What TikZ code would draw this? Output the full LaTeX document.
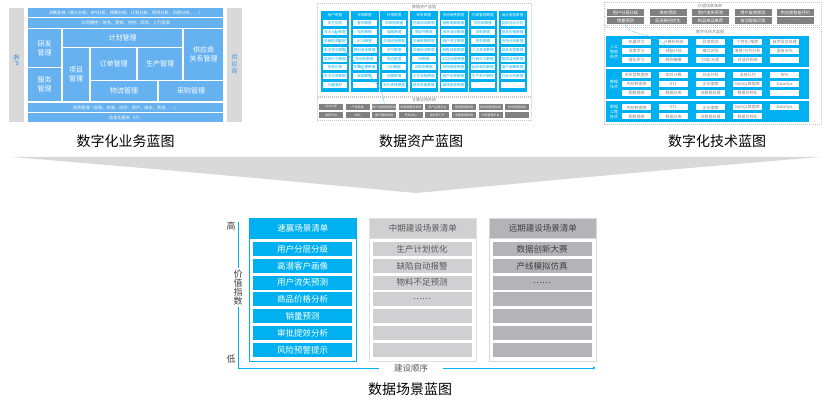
\documentclass[tikz,border=0pt]{standalone}
\usepackage{fontspec}
\setmainfont{Noto Sans CJK SC}
\usepackage{tikz}
\usepackage{xcolor}
\usetikzlibrary{arrows.meta, positioning}

\definecolor{cyanblue}{HTML}{00B0F0}
\definecolor{bizblue}{HTML}{66B2F0}
\definecolor{bartxt}{HTML}{3F95E6}
\definecolor{bargray}{HTML}{D9D9D9}
\definecolor{sysgray}{HTML}{808080}
\definecolor{midgray}{HTML}{D0D0D2}
\definecolor{fargray}{HTML}{B4B4B8}
\definecolor{txtgray}{HTML}{595959}
\definecolor{deepgray}{HTML}{404040}

\tikzset{
    bizbox/.style={fill=bizblue, text=white, anchor=north west, inner sep=0pt, align=center, font=\fontsize{7}{9}\selectfont},
    bizrow/.style={bizbox, font=\fontsize{4.2}{5}\selectfont},
    graybar/.style={fill=bargray, anchor=north west, inner sep=0pt, minimum width=15pt, minimum height=114pt},
    bartext/.style={text=bartxt, align=center, inner sep=0pt, font=\fontsize{6}{7}\selectfont},
    dashbox/.style={draw=gray!45, dash pattern=on 1pt off 1pt, line width=0.4pt},
    thumbtitle/.style={text=gray, inner sep=0pt, font=\fontsize{4}{5}\selectfont},
    assetcol/.style={fill=cyanblue, anchor=north west, inner sep=0pt, minimum width=28pt, minimum height=81pt},
    assethead/.style={text=white, inner sep=0pt, font=\fontsize{3.6}{4}\selectfont},
    assetitem/.style={fill=white, text=cyanblue, inner sep=0pt, minimum width=24pt, minimum height=6pt, font=\fontsize{3.6}{4}\selectfont},
    sysitem/.style={fill=sysgray, text=white, inner sep=0pt, minimum width=24pt, minimum height=6pt, font=\fontsize{3}{3.5}\selectfont},
    valueitem/.style={fill=sysgray, text=white, inner sep=0pt, minimum width=37pt, minimum height=7pt, font=\fontsize{4.2}{5}\selectfont},
    techband/.style={fill=cyanblue, anchor=north west, inner sep=0pt, minimum width=203pt},
    techlabel/.style={text=white, align=center, inner sep=0pt, font=\fontsize{4}{5}\selectfont},
    techitem/.style={fill=white, text=gray, inner sep=0pt, minimum width=29pt, minimum height=6pt, font=\fontsize{4}{4.5}\selectfont},
    linkline/.style={cyanblue!70, line width=0.4pt},
    bptitle/.style={inner sep=0pt, font=\fontsize{14}{16}\selectfont},
    scenebox/.style={fill=white, anchor=north west, inner sep=0pt, minimum width=107pt, minimum height=143pt, line width=0.8pt},
    scenehead/.style={anchor=north west, inner sep=0pt, minimum width=107pt, minimum height=20pt, line width=0.8pt, font=\fontsize{8.5}{10}\selectfont},
    sceneitem/.style={inner sep=0pt, minimum width=99pt, minimum height=14pt, font=\fontsize{8.5}{10}\selectfont},
    axislabel/.style={text=deepgray, inner sep=0pt, font=\fontsize{9}{9}\selectfont},
}

\begin{document}
\begin{tikzpicture}[x=1pt, y=-1pt]
    % Canvas
    \fill[white] (0,0) rectangle (826,403);
    \useasboundingbox (0,0) rectangle (826,403);

    % Business blueprint
    \node[graybar] (kehubar) at (9,8) {};
    \node[graybar] (gysbar) at (227,8) {};
    \node[bartext, rotate=-90] (kehutext) at (16.5,61) {客户};
    \node[bartext] (gystext) at (234.5,64.5) {供\\应\\商};
    \node[bizrow, minimum width=195pt, minimum height=9pt] (juece) at (28,8) {决策支持（收入分析、KPI分析、预算分析、计划分析、预测分析、风险分析、…）};
    \node[bizrow, minimum width=195pt, minimum height=10pt] (guankong) at (28,18) {公司管控：财务、营销、内控、风险、人力资源};
    \node[bizbox, minimum width=33pt, minimum height=38pt] (yanfa) at (28,29) {研发\\管理};
    \node[bizbox, minimum width=33pt, minimum height=33pt] (fuwu) at (28,68) {服务\\管理};
    \node[bizbox, minimum width=119pt, minimum height=18pt] (jihua) at (63,29) {计划管理};
    \node[bizbox, minimum width=26pt, minimum height=53pt] (xiangmu) at (63,48) {项目\\管理};
    \node[bizbox, minimum width=45pt, minimum height=32pt] (dingdan) at (91,48) {订单管理};
    \node[bizbox, minimum width=44pt, minimum height=32pt] (shengchan) at (138,48) {生产管理};
    \node[bizbox, minimum width=39pt, minimum height=51pt] (gongying) at (184,29) {供应商\\关系管理};
    \node[bizbox, minimum width=66pt, minimum height=20pt] (wuliu) at (91,81) {物流管理};
    \node[bizbox, minimum width=64pt, minimum height=20pt] (caigou) at (159,81) {采购管理};
    \node[bizrow, minimum width=195pt, minimum height=9pt] (caiwu) at (28,103) {财务管理（总账、应收、应付、资产、成本、资金、…）};
    \node[bizrow, minimum width=195pt, minimum height=9pt] (itbase) at (28,113) {信息化服务（IT）};

    % Data asset blueprint
    \draw[dashbox] (317,3) rectangle (531,96);
    \draw[dashbox] (317,97) rectangle (531,120);
    \node[thumbtitle] (assettitle) at (424,6.8) {数据资产蓝图};
    \node[thumbtitle] (systitle) at (424,100.3) {主要应用系统};
    \foreach \head [count=\i] in {用户数据, 车辆数据, 环境数据, 研发数据, 市场销售数据, 内部管理数据, 商业智能数据} {
        \node[assetcol] (col\i) at ({321+29.6*(\i-1)},11) {};
        \node[assethead] (head\i) at ({335+29.6*(\i-1)},15.5) {\head};
    }
    \foreach \t [count=\j] in {车主信息, 车主App数据, 车辆购买数据, 车主购买数据, 驾驶行为数据, 车险记录, 车主浏览数据, 兴趣爱好}
        \node[assetitem] (a1\j) at (335,{23.5+8.8*(\j-1)}) {\t};
    \foreach \t [count=\j] in {整车数据, 电机数据, DCM数据, 燃料电池数据, 发动机数据, 车辆位置数据, 故障数据, ……}
        \node[assetitem] (a2\j) at (364.6,{23.5+8.8*(\j-1)}) {\t};
    \foreach \t [count=\j] in {车联网数据, 道路数据, 交通设施数据, 天气数据, 周边数据, POI数据, 地图数据, 车内环境数据}
        \node[assetitem] (a3\j) at (394.2,{23.5+8.8*(\j-1)}) {\t};
    \foreach \t [count=\j] in {仿真测试数据, 零部件数据, 车辆故障数据, 车辆测试数据, VR数据, 试验车数据, 工艺流程数据, 研发设备数据}
        \node[assetitem] (a4\j) at (423.8,{23.5+8.8*(\j-1)}) {\t};
    \foreach \t [count=\j] in {销售明细数据, 市场活动数据, 用户关注数据, 销售线索数据, 4S店运营数据, 市场投放数据, 用户反馈数据, 媒体投放数据}
        \node[assetitem] (a5\j) at (453.4,{23.5+8.8*(\j-1)}) {\t};
    \foreach \t [count=\j] in {供应商数据, 采购数据, 财务数据, 人力资源数据, 行政办公数据, 组织架构数据, 生产资产数据, ……}
        \node[assetitem] (a6\j) at (483,{23.5+8.8*(\j-1)}) {\t};
    \foreach \t [count=\j] in {竞品对比分析, 竞品价格数据, 市场分析数据, 竞品车型数据, 舆情监测数据, 用户画像数据, 行业分析数据, ……}
        \node[assetitem] (a7\j) at (512.6,{23.5+8.8*(\j-1)}) {\t};
    % application systems
    \foreach \t [count=\j] in {CAD/CAE, 产线系统, 用户运营管理系统, 车联网服务系统, 用户运营平台, 营销管理系统, 供应链管理系统, 财务管理系统}
        \node[sysitem] (s1\j) at ({331+26.6*(\j-1)},107) {\t};
    \foreach \t [count=\j] in {电商平台, MES, 客户服务系统, 呼叫中心, 供应商门户, 设备管理系统, 内控管理平台, ……}
        \node[sysitem] (s2\j) at ({331+26.6*(\j-1)},115) {\t};
    \draw[linkline] (a11.south) .. controls (337,62) and (382,70) .. (s13.north);

    % Technology blueprint
    \draw[dashbox] (604,2) rectangle (821,25);
    \draw[dashbox] (604,27) rectangle (821,124);
    \node[thumbtitle] (valuetitle) at (710,5.8) {价值场景清单};
    \node[thumbtitle] (techtitle) at (710,31.8) {数字化技术蓝图};
    \foreach \t [count=\j] in {用户分层分级, 库存预测, 用户流失预测, 用户复购预测, 供应商智能评价}
        \node[valueitem] (v1\j) at ({625.5+42.5*(\j-1)},12.5) {\t};
    \foreach \t [count=\j] in {销量预测, 配送路径优化, 新品商品推荐, 自动智能问答, ……}
        \node[valueitem] (v2\j) at ({625.5+42.5*(\j-1)},20.5) {\t};
    \node[techband, minimum height=31pt] (aiband) at (606,36) {};
    \node[techband, minimum height=30pt] (databand) at (606,69) {};
    \node[techband, minimum height=21pt] (engband) at (606,101) {};
    \node[techlabel] (ailabel) at (614,51.5) {人工\\智能\\技术};
    \node[techlabel] (datalabel) at (614,84) {数据\\技术};
    \node[techlabel] (englabel) at (614,111.5) {数据\\工程\\技术};
    \foreach \t [count=\j] in {机器学习, 计算机视觉, 异常检测, 个性化/推荐, 自然语言处理}
        \node[techitem] (ta1\j) at ({636.5+37*(\j-1)},42) {\t};
    \foreach \t [count=\j] in {深度学习, 规划计划, 模式识别, 情感/行为分析, 语音识别}
        \node[techitem] (ta2\j) at ({636.5+37*(\j-1)},51) {\t};
    \foreach \t [count=\j] in {强化学习, 预测建模, 归类/分类, 对话式系统, ……}
        \node[techitem] (ta3\j) at ({636.5+37*(\j-1)},60) {\t};
    \foreach \t [count=\j] in {关系型数据库, 实时计算, 日志分析, 消息队列, RPA}
        \node[techitem] (tb1\j) at ({636.5+37*(\j-1)},75) {\t};
    \foreach \t [count=\j] in {内存数据库, ETL, 企业搜索, NoSQL数据库, DataOps}
        \node[techitem] (tb2\j) at ({636.5+37*(\j-1)},84) {\t};
    \foreach \t [count=\j] in {图数据库, 数据仓库, 流数据处理, 数据可视化, ……}
        \node[techitem] (tb3\j) at ({636.5+37*(\j-1)},93) {\t};
    \foreach \t [count=\j] in {内存数据库, ETL, 企业搜索, NoSQL数据库, DataOps}
        \node[techitem] (tc1\j) at ({636.5+37*(\j-1)},107.5) {\t};
    \foreach \t [count=\j] in {图数据库, 数据仓库, 流数据处理, 数据可视化}
        \node[techitem] (tc2\j) at ({636.5+37*(\j-1)},116.5) {\t};
    \draw[linkline, dash pattern=on 1pt off 0.6pt] (v21.south) .. controls (628,38) and (664,30) .. (ta32.north);

    % Blueprint titles
    \node[bptitle] (biztitle) at (125.5,141.5) {数字化业务蓝图};
    \node[bptitle] (datatitle) at (421,141.5) {数据资产蓝图};
    \node[bptitle] (techname) at (717,141.5) {数字化技术蓝图};

    % Merging wedge
    \fill[bargray] (11,157) -- (821,157) .. controls (600,175) and (440,191) .. (416,193)
                   .. controls (392,191) and (232,175) .. (11,157) -- cycle;

    % Scenario columns
    \node[scenebox, draw=cyanblue] (quickbox) at (249,218) {};
    \node[scenehead, fill=cyanblue, draw=cyanblue, text=white] (quickhead) at (249,218) {速赢场景清单};
    \foreach \t [count=\j] in {用户分层分级, 高潜客户画像, 用户流失预测, 商品价格分析, 销量预测, 审批提效分析, 风险预警提示}
        \node[sceneitem, fill=cyanblue, text=white] (q\j) at (302.5,{249+16.8*(\j-1)}) {\t};

    \node[scenebox, draw=gray!25] (midbox) at (369,218) {};
    \node[scenehead, fill=midgray, draw=gray!25, text=txtgray] (midhead) at (369,218) {中期建设场景清单};
    \foreach \t [count=\j] in {生产计划优化, 缺陷自动报警, 物料不足预测, ……, {}, {}, {}}
        \node[sceneitem, fill=midgray, text=txtgray] (m\j) at (422,{249+16.8*(\j-1)}) {\t};

    \node[scenebox, draw=gray!30] (farbox) at (489,218) {};
    \node[scenehead, fill=fargray, draw=gray!30, text=deepgray] (farhead) at (489,218) {远期建设场景清单};
    \foreach \t [count=\j] in {数据创新大赛, 产线模拟仿真, ……, {}, {}, {}, {}}
        \node[sceneitem, fill=fargray, text=deepgray] (f\j) at (542,{249+16.8*(\j-1)}) {\t};

    % Axes
    \coordinate (ytop) at (238,222);
    \coordinate (origin) at (238,368);
    \coordinate (xend) at (596,368);
    \draw[cyanblue, line width=0.8pt, -{Latex[length=3pt, width=3pt]}] (ytop) -- (origin) -- (xend);
    \node[axislabel, fill=white, align=center, inner ysep=2pt] (valuelbl) at (238,287.5) {价\\值\\指\\数};
    \node[axislabel] (highlbl) at (231,226) {高};
    \node[axislabel] (lowlbl) at (231,359) {低};
    \node[axislabel, fill=white, text=txtgray, inner xsep=15pt, font=\fontsize{8.5}{9}\selectfont] (orderlbl) at (411,368) {建设顺序};
    \node[bptitle] (scenetitle) at (410,389) {数据场景蓝图};
\end{tikzpicture}
\end{document}
